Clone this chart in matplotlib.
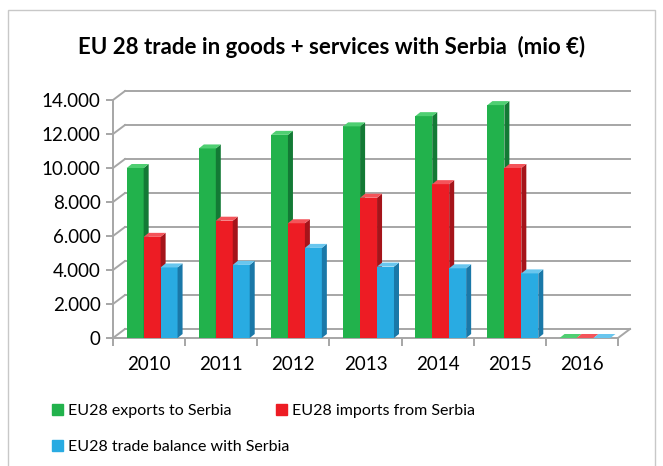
import numpy as np
import matplotlib.pyplot as plt
from matplotlib.patches import Polygon, Rectangle, Patch

plt.rcParams['font.family'] = ['Lato', 'DejaVu Sans']

years = ['2010', '2011', '2012', '2013', '2014', '2015', '2016']
exports = [10000, 11150, 11950, 12450, 13050, 13700, 0]
imports = [5950, 6900, 6750, 8250, 9050, 10000, 0]
balance = [4150, 4300, 5300, 4200, 4100, 3800, 0]
series_names = ['EU28 exports to Serbia', 'EU28 imports from Serbia',
                'EU28 trade balance with Serbia']
yticks = [0, 2000, 4000, 6000, 8000, 10000, 12000, 14000]

front = ['#22b24c', '#ed1c24', '#29abe2']
side = ['#137a35', '#a5141a', '#1a78a8']
top = ['#4fcf72', '#f4545a', '#69c6ee']

fig = plt.figure(figsize=(6.63, 4.66), dpi=100)
fig.patches.append(Rectangle((8/663, -0.05), 647/663, 1 - 10/466 + 0.05,
                             transform=fig.transFigure, fill=False,
                             edgecolor='#c8c8c8', lw=1))

ax = fig.add_axes([113/663, 128/466, 505/663, 238/466])
ax.set_xlim(0, 7)
ax.set_ylim(0, 14000)
ax.patch.set_visible(False)

# depth offsets of back wall and bars (data units)
wdx, wdy = 12/72.1, 9/17*1000
bdx, bdy = 5/72.1, 4/17*1000
grid_c = '#a6a6a6'

for v in yticks:
    ax.plot([wdx, 7 + wdx], [v + wdy, v + wdy], color=grid_c, lw=1.4, clip_on=False, zorder=1)
    ax.plot([0, wdx], [v, v + wdy], color=grid_c, lw=1.4, clip_on=False, zorder=1)
ax.plot([7, 7 + wdx], [0, wdy], color=grid_c, lw=1.4, clip_on=False, zorder=1)

w = 0.235
for k, vals in enumerate([exports, imports, balance]):
    for i, h in enumerate(vals):
        x0 = i + 0.19 + k*w
        z = 3 + k
        ax.bar(x0, h, w, align='edge', color=front[k], zorder=z, lw=0)
        ax.add_patch(Polygon([(x0 + w, 0), (x0 + w + bdx, bdy), (x0 + w + bdx, h + bdy), (x0 + w, h)],
                             closed=True, color=side[k], lw=0, zorder=z, clip_on=False))
        ax.add_patch(Polygon([(x0, h), (x0 + bdx, h + bdy), (x0 + w + bdx, h + bdy), (x0 + w, h)],
                             closed=True, color=top[k], lw=0, zorder=z, clip_on=False))

for s in ['top', 'right']:
    ax.spines[s].set_visible(False)
for s in ['left', 'bottom']:
    ax.spines[s].set_color(grid_c)
    ax.spines[s].set_linewidth(1.4)

ax.set_yticks(yticks)
ax.set_yticklabels(['{:,}'.format(v).replace(',', '.') for v in yticks], fontsize=13.5)
ax.tick_params(axis='y', length=5, color=grid_c, width=1.4, pad=4)
ax.set_xticks(np.arange(8))
ax.set_xticklabels([])
ax.set_xticks(np.arange(7) + 0.5, minor=True)
ax.set_xticklabels(years, minor=True, fontsize=13.5)
ax.tick_params(axis='x', which='major', length=6, color=grid_c, width=1.4)
ax.tick_params(axis='x', which='minor', length=0, pad=13)

fig.text(0.5, 1 - 47/466, 'EU 28 trade in goods + services with Serbia  (mio \u20ac)',
         ha='center', va='center', fontsize=16, fontweight='bold')

leg_kw = dict(loc='upper left', frameon=False, fontsize=11.5, handlelength=0.7, handleheight=0.7,
              handletextpad=0.3, borderaxespad=0, borderpad=0)
leg1 = fig.legend([Patch(color=front[0]), Patch(color=front[1])], series_names[:2], ncol=2,
                  bbox_to_anchor=(52/663, 1 - 404/466), columnspacing=2.8, **leg_kw)
leg2 = fig.legend([Patch(color=front[2])], series_names[2:],
                  bbox_to_anchor=(52/663, 1 - 440/466), **leg_kw)

fig.savefig('out.png', dpi=100)
